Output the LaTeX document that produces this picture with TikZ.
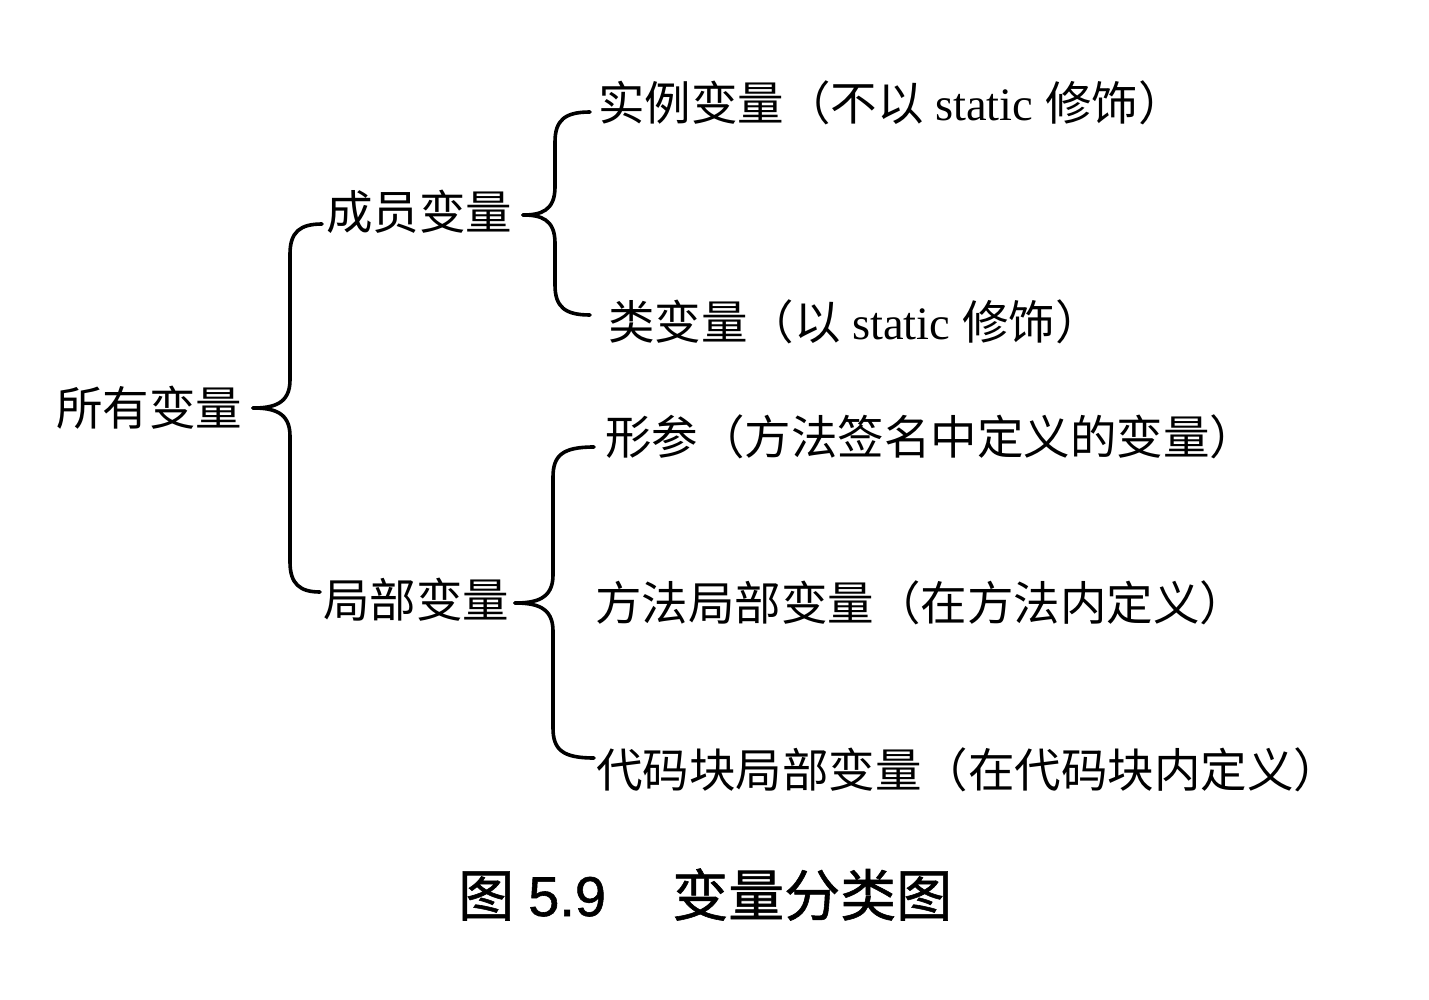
\documentclass[tikz,border=0pt]{standalone}
\usepackage{fontspec}
\setmainfont{Liberation Serif}
\newfontfamily\cjk{Noto Sans CJK SC}
\newfontfamily\cjktitle[FakeBold=1]{Noto Sans CJK SC}
\newfontfamily\titlelatin[FakeBold=1]{Liberation Sans}
\usetikzlibrary{calc}

% one arm of a curly brace: from the tip (#1) along a vertical stem
% #3 pt to the right of the tip, curling into the child end (#2)
\newcommand\bracearm[3]{%
  \draw[arm] let \p1=(#1), \p2=(#2), \n1={ifthenelse(\y2>\y1,1,-1)} in
    (\p1) .. controls (\x1+0.55*#3pt,\y1) and (\x1+#3pt,\y1+\n1*4pt)
    .. (\x1+#3pt,\y1+\n1*28pt)
    -- (\x1+#3pt,\y2-\n1*30pt)
    .. controls (\x1+#3pt,\y2-\n1*8pt) and (\x1+#3pt+10pt,\y2) .. (\p2);}

\begin{document}
\begin{tikzpicture}[x=1pt,y=-1pt,
  label/.style={anchor=west,inner sep=0pt,text height=36pt,text depth=1pt,
    font=\fontsize{46.5}{50}\selectfont\cjk},
  caption/.style={anchor=west,inner sep=0pt,text height=43pt,text depth=1pt},
  arm/.style={line width=3.6pt,line cap=round,line join=round}]
\useasboundingbox[fill=white] (0,0) rectangle (1429,1000);

% tree labels
\node[label] (all)   at (56,408)  {所有变量};
\node[label] (mem)   at (326,212) {成员变量};
\node[label] (loc)   at (323,600) {局部变量};
\node[label] (inst)  at (598,103) {实例变量（不以{\rmfamily\ static\ }修饰）};
\node[label] (cls)   at (608,322) {类变量（以{\rmfamily\ static\ }修饰）};
\node[label] (par)   at (605,437) {形参（方法签名中定义的变量）};
\node[label] (mloc)  at (595,603) {方法局部变量（在方法内定义）};
\node[label] (bloc)  at (596,770) {代码块局部变量（在代码块内定义）};

% brace tips and ends
\coordinate (t1) at (253,408);
\coordinate (e1a) at (322,224);
\coordinate (e1b) at (320,592);
\coordinate (t2) at (523,215);
\coordinate (e2a) at (590,112);
\coordinate (e2b) at (590,315);
\coordinate (t3) at (515,603);
\coordinate (e3a) at (594,447);
\coordinate (e3b) at (594,758);

\bracearm{t1}{e1a}{37}
\bracearm{t1}{e1b}{37}
\bracearm{t2}{e2a}{32}
\bracearm{t2}{e2b}{32}
\bracearm{t3}{e3a}{38}
\bracearm{t3}{e3b}{38}

% caption
\node[caption,font=\fontsize{56}{60}\selectfont] (cap1) at (458,895)
  {{\cjktitle 图}\hspace{14pt}{\titlelatin 5.9}};
\node[caption,font=\fontsize{56}{60}\selectfont\cjktitle] (cap2) at (672,895) {变量分类图};
\end{tikzpicture}
\end{document}
